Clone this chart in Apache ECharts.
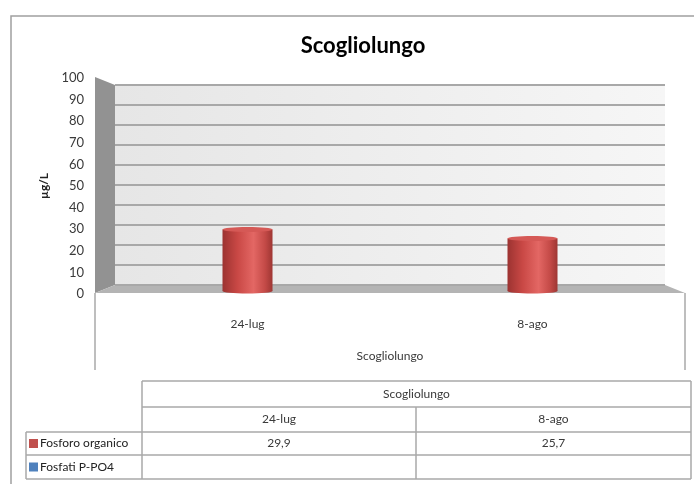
<!DOCTYPE html>
<html>
<head>
<meta charset="utf-8">
<script src="https://cdn.jsdelivr.net/npm/echarts@6/dist/echarts.min.js"></script>
<style>
html,body{margin:0;padding:0;background:#fff;}
#c{width:694px;height:484px;}
</style>
</head>
<body>
<div id="c"></div>
<script>
// ---- data ----
const chartTitle = 'Scogliolungo';
const groupLabel = 'Scogliolungo';
const categories = ['24-lug', '8-ago'];
const seriesNames = ['Fosforo organico', 'Fosfati P-PO4'];
const fosforoOrganico = [29.9, 25.7];
const fosfatiPPO4 = [null, null];
const seriesColors = ['#c0504d', '#4f81bd'];
const yMin = 0, yMax = 100, yStep = 10;
const yAxisName = 'µg/L';

// ---- layout ----
const FONT = 'Lato, "Open Sans", sans-serif';
const TXT = '#3a3a3a';
const LINE = '#a8a8a8';
const front = {left: 95, right: 685, top: 77, bottom: 293};
const back = {left: 115, right: 665, top: 85, bottom: 285};

function fmt(v) { return v == null ? '' : v.toFixed(1).replace('.', ','); }

const chart = echarts.init(document.getElementById('c'), null, {renderer: 'canvas'});

// decorations: walls and floor
const deco = [
  {type: 'rect', z: -10, shape: {x: 11, y: 16, width: 700, height: 500},
   style: {fill: '#fff', stroke: '#a0a0a0', lineWidth: 1.5}},
  {type: 'rect', z: -9, shape: {x: back.left, y: back.top, width: back.right - back.left, height: back.bottom - back.top},
   style: {fill: new echarts.graphic.LinearGradient(0, 0, 1, 0, [{offset: 0, color: '#e6e6e6'}, {offset: 1, color: '#f6f6f6'}])}},
  {type: 'polygon', z: -8, shape: {points: [[front.left, front.top], [back.left, back.top], [back.left, back.bottom], [front.left, front.bottom]]},
   style: {fill: '#929292'}},
  {type: 'polygon', z: -8, shape: {points: [[front.left, front.bottom], [back.left, back.bottom], [back.right, back.bottom], [front.right, front.bottom]]},
   style: {fill: '#b4b4b4'}},
  {type: 'line', z: -8, shape: {x1: front.left, y1: front.bottom, x2: front.left, y2: 370}, style: {stroke: LINE, lineWidth: 1.5}},
  {type: 'line', z: -8, shape: {x1: front.right, y1: front.bottom, x2: front.right, y2: 370}, style: {stroke: LINE, lineWidth: 1.5}}
];

// data table
const tbl = {x0: 26, x1: 142, x2: 416, x3: 691, rows: [381, 407, 432, 455, 479]};
function hline(x1, x2, y) { return {type: 'line', shape: {x1: x1, y1: y, x2: x2, y2: y}, style: {stroke: LINE, lineWidth: 1.5}}; }
function vline(x, y1, y2) { return {type: 'line', shape: {x1: x, y1: y1, x2: x, y2: y2}, style: {stroke: LINE, lineWidth: 1.5}}; }
function txt(t, x, y, align) {
  return {type: 'text', style: {text: t, x: x, y: y, textAlign: align || 'center', textVerticalAlign: 'middle',
    font: '12px ' + FONT, fill: TXT}};
}
const R = tbl.rows;
const table = [
  hline(tbl.x1, tbl.x3, R[0]), hline(tbl.x1, tbl.x3, R[1]),
  hline(tbl.x0, tbl.x3, R[2]), hline(tbl.x0, tbl.x3, R[3]), hline(tbl.x0, tbl.x3, R[4]),
  vline(tbl.x1, R[0], R[4]), vline(tbl.x3, R[0], R[4]), vline(tbl.x2, R[1], R[4]), vline(tbl.x0, R[2], R[4]),
  txt(groupLabel, (tbl.x1 + tbl.x3) / 2, (R[0] + R[1]) / 2),
  txt(categories[0], (tbl.x1 + tbl.x2) / 2, (R[1] + R[2]) / 2),
  txt(categories[1], (tbl.x2 + tbl.x3) / 2, (R[1] + R[2]) / 2)
];
const seriesData = [fosforoOrganico, fosfatiPPO4];
seriesNames.forEach(function (name, i) {
  const yc = (R[2 + i] + R[3 + i]) / 2;
  table.push({type: 'rect', shape: {x: 29, y: yc - 4.5, width: 9, height: 9}, style: {fill: seriesColors[i]}});
  table.push({type: 'text', style: {text: name, x: 40, y: yc, textAlign: 'left', textVerticalAlign: 'middle', font: '12px ' + FONT, fill: '#222'}});
  table.push(txt(fmt(seriesData[i][0]), (tbl.x1 + tbl.x2) / 2, yc));
  table.push(txt(fmt(seriesData[i][1]), (tbl.x2 + tbl.x3) / 2, yc));
});

const cylGrad = new echarts.graphic.LinearGradient(0, 0, 1, 0, [
  {offset: 0, color: '#9c3331'}, {offset: 0.3, color: '#c94845'}, {offset: 0.62, color: '#e36764'},
  {offset: 0.85, color: '#c44a47'}, {offset: 1, color: '#9e3633'}
]);

function renderCyl(params, api) {
  const v = api.value(1);
  if (v == null || isNaN(v)) return;
  const top = api.coord([api.value(0), v]);
  const base = api.coord([api.value(0), 0]);
  const w = 50, ry = 2.5;
  const x = top[0] - w / 2;
  const yb = base[1] - 3;
  return {type: 'group', children: [
    {type: 'ellipse', shape: {cx: top[0], cy: yb, rx: w / 2, ry: ry}, style: {fill: cylGrad}},
    {type: 'rect', shape: {x: x, y: top[1], width: w, height: yb - top[1]}, style: {fill: cylGrad}},
    {type: 'ellipse', shape: {cx: top[0], cy: top[1], rx: w / 2, ry: ry}, style: {fill: '#d55956'}}
  ]};
}

chart.setOption({
  animation: false,
  backgroundColor: '#fff',
  title: {text: chartTitle, left: 358, top: 30, textAlign: 'center',
    textStyle: {fontFamily: FONT, fontSize: 22, fontWeight: 'bold', color: '#000'}},
  grid: [
    {left: 105, right: 694 - 675, top: 78, bottom: 484 - 294},
    {left: back.left, right: 694 - back.right, top: back.top, bottom: 484 - back.bottom}
  ],
  xAxis: [
    {type: 'category', gridIndex: 0, data: categories, axisLine: {show: false}, axisTick: {show: false},
     axisLabel: {margin: 24, color: TXT, fontFamily: FONT, fontSize: 12},
     name: groupLabel, nameLocation: 'middle', nameGap: 56,
     nameTextStyle: {color: TXT, fontFamily: FONT, fontSize: 12}},
    {type: 'category', gridIndex: 1, data: categories, show: false}
  ],
  yAxis: [
    {type: 'value', gridIndex: 0, min: yMin, max: yMax, interval: yStep,
     axisLine: {show: false}, axisTick: {show: false}, splitLine: {show: false},
     axisLabel: {margin: 21, color: TXT, fontFamily: FONT, fontSize: 13},
     name: yAxisName, nameLocation: 'middle', nameGap: 54, nameRotate: 90,
     nameTextStyle: {color: '#222', fontFamily: FONT, fontSize: 12, fontWeight: 'bold'}},
    {type: 'value', gridIndex: 1, min: yMin, max: yMax, interval: yStep,
     axisLine: {show: false}, axisTick: {show: false}, axisLabel: {show: false},
     splitLine: {show: true, lineStyle: {color: LINE, width: 2}}}
  ],
  graphic: deco.concat(table),
  series: [
    {name: seriesNames[0], type: 'custom', xAxisIndex: 0, yAxisIndex: 0, renderItem: renderCyl,
     data: categories.map(function (c, i) { return [i, fosforoOrganico[i]]; }), z: 5},
    {name: seriesNames[1], type: 'custom', xAxisIndex: 0, yAxisIndex: 0, renderItem: renderCyl,
     data: categories.map(function (c, i) { return [i, fosfatiPPO4[i]]; }), z: 5}
  ]
});
</script>
</body>
</html>
